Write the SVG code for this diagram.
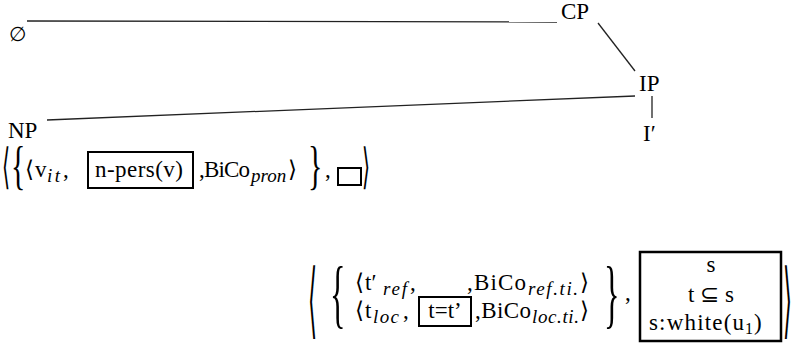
<svg xmlns="http://www.w3.org/2000/svg" width="803" height="346" viewBox="0 0 803 346">
<rect width="803" height="346" fill="#fff"/>
<g id="connectors" stroke="#222" stroke-width="1.3" fill="none">
<line x1="27" y1="21" x2="557" y2="22"/>
<line x1="598" y1="23" x2="635" y2="71"/>
<line x1="635" y1="96" x2="47" y2="120"/>
<line x1="652" y1="96" x2="652" y2="118"/>
</g>
<g id="empty"><text font-family="Liberation Serif" font-size="20" x="9" y="41">∅</text></g>
<g id="CP"><text font-family="Liberation Serif" font-size="23" x="561" y="19">CP</text></g>
<g id="IP"><text font-family="Liberation Serif" font-size="23" x="639" y="91">IP</text></g>
<g id="Ibar"><text font-family="Liberation Serif" font-size="23" x="643" y="141">I′</text></g>
<g id="NP"><text font-family="Liberation Serif" font-size="23" x="8" y="138">NP</text></g>
<g id="np-content">
<text font-family="DejaVu Serif" font-size="23" transform="translate(2,183) scale(0.9,2.1)">⟨</text>
<text font-family="Liberation Serif" font-size="23" transform="translate(11,183) scale(1.3,2.3)">{</text>
<text font-family="DejaVu Serif" font-size="23" x="25" y="177">⟨</text>
<text font-family="Liberation Serif" font-size="23" x="35" y="177">v</text>
<text font-family="Liberation Serif" font-size="19" font-style="italic" x="47" y="182" textLength="13">it</text>
<text font-family="Liberation Serif" font-size="23" x="63" y="177">,</text>
<rect x="88" y="152" width="105" height="36" fill="none" stroke="#000" stroke-width="2"/>
<text font-family="Liberation Serif" font-size="23" x="95" y="177" textLength="88">n-pers(v)</text>
<text font-family="Liberation Serif" font-size="23" x="199" y="177" textLength="51">,BiCo</text>
<text font-family="Liberation Serif" font-size="19" font-style="italic" x="251" y="182">pron</text>
<text font-family="DejaVu Serif" font-size="23" x="288" y="177">⟩</text>
<text font-family="Liberation Serif" font-size="23" transform="translate(308,183) scale(1.3,2.3)">}</text>
<text font-family="Liberation Serif" font-size="23" x="325" y="177">,</text>
<rect x="338" y="168" width="23" height="17" fill="none" stroke="#000" stroke-width="2"/>
<text font-family="DejaVu Serif" font-size="23" transform="translate(362,183) scale(0.9,2.1)">⟩</text>
</g>
<g id="ip-content">
<text font-family="DejaVu Serif" font-size="23" transform="translate(308,328) scale(1.0,3.6)">⟨</text>
<text font-family="Liberation Serif" font-size="23" transform="translate(330,319) scale(1.4,3.3)">{</text>
<text font-family="DejaVu Serif" font-size="23" x="355" y="290">⟨</text>
<text font-family="Liberation Serif" font-size="23" x="365" y="290">t′</text>
<text font-family="Liberation Serif" font-size="19" font-style="italic" x="383" y="295" textLength="24">ref</text>
<text font-family="Liberation Serif" font-size="23" x="410" y="290">,</text>
<text font-family="Liberation Serif" font-size="23" x="467" y="290" textLength="59">,BiCo</text>
<text font-family="Liberation Serif" font-size="19" font-style="italic" x="528" y="295" textLength="50">ref.ti.</text>
<text font-family="DejaVu Serif" font-size="23" x="580" y="290">⟩</text>
<text font-family="DejaVu Serif" font-size="23" x="355" y="318">⟨</text>
<text font-family="Liberation Serif" font-size="23" x="365" y="318">t</text>
<text font-family="Liberation Serif" font-size="19" font-style="italic" x="373" y="323" textLength="26">loc</text>
<text font-family="Liberation Serif" font-size="23" x="403" y="318">,</text>
<rect x="419" y="297" width="52" height="29" fill="none" stroke="#000" stroke-width="2"/>
<text font-family="Liberation Serif" font-size="23" x="445" y="318" text-anchor="middle">t=t’</text>
<text font-family="Liberation Serif" font-size="23" x="475" y="318" textLength="56">,BiCo</text>
<text font-family="Liberation Serif" font-size="19" font-style="italic" x="532" y="323" textLength="47">loc.ti.</text>
<text font-family="DejaVu Serif" font-size="23" x="580" y="318">⟩</text>
<text font-family="Liberation Serif" font-size="23" transform="translate(604,319) scale(1.4,3.3)">}</text>
<text font-family="Liberation Serif" font-size="23" x="625" y="300">,</text>
<rect x="640" y="252" width="141" height="89" fill="none" stroke="#000" stroke-width="2.5"/>
<text font-family="Liberation Serif" font-size="23" x="711" y="272" text-anchor="middle">s</text>
<text font-family="Liberation Serif" font-size="23" x="711" y="302" text-anchor="middle">t ⊆ s</text>
<text font-family="Liberation Serif" font-size="23" x="649" y="330" textLength="95">s:white(u</text>
<text font-family="Liberation Serif" font-size="16" x="745" y="334">1</text>
<text font-family="Liberation Serif" font-size="23" x="754" y="330">)</text>
<text font-family="DejaVu Serif" font-size="23" transform="translate(783,328) scale(1.0,3.6)">⟩</text>
</g>
</svg>
